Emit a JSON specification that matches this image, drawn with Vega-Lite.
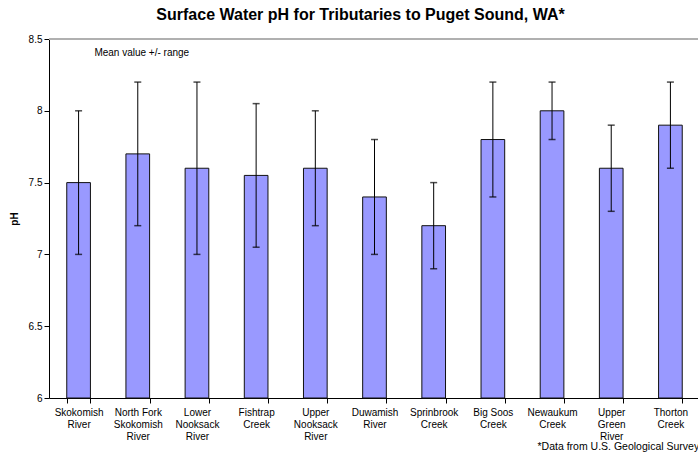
{
  "$schema": "https://vega.github.io/schema/vega-lite/v6.json",
  "autosize": {"type": "none"},
  "width": 651,
  "height": 359,
  "padding": {"left": 49, "top": 39, "right": 0, "bottom": 55},
  "background": "white",
  "config": {
    "view": {"stroke": null},
    "font": "Liberation Sans",
    "axis": {"labelFont": "Liberation Sans", "titleFont": "Liberation Sans", "labelColor": "#000", "titleColor": "#000", "domainColor": "#000", "tickColor": "#000"}
  },
  "title": {"text": "Surface Water pH for Tributaries to Puget Sound, WA*", "fontSize": 16, "fontWeight": "bold", "font": "Liberation Sans", "color": "#000", "anchor": "middle", "offset": 11, "dx": -14},
  "data": {"values": [
    {"site": "Skokomish|River", "mean": 7.5, "low": 7.0, "high": 8.0},
    {"site": "North Fork|Skokomish|River", "mean": 7.7, "low": 7.2, "high": 8.2},
    {"site": "Lower|Nooksack|River", "mean": 7.6, "low": 7.0, "high": 8.2},
    {"site": "Fishtrap|Creek", "mean": 7.55, "low": 7.05, "high": 8.05},
    {"site": "Upper|Nooksack|River", "mean": 7.6, "low": 7.2, "high": 8.0},
    {"site": "Duwamish|River", "mean": 7.4, "low": 7.0, "high": 7.8},
    {"site": "Sprinbrook|Creek", "mean": 7.2, "low": 6.9, "high": 7.5},
    {"site": "Big Soos|Creek", "mean": 7.8, "low": 7.4, "high": 8.2},
    {"site": "Newaukum|Creek", "mean": 8.0, "low": 7.8, "high": 8.2},
    {"site": "Upper|Green|River", "mean": 7.6, "low": 7.3, "high": 7.9},
    {"site": "Thorton|Creek", "mean": 7.9, "low": 7.6, "high": 8.2}
  ]},
  "encoding": {
    "x": {"field": "site", "type": "nominal", "sort": null,
      "scale": {"paddingInner": 0.6, "paddingOuter": 0.3},
      "axis": {"title": "*Data from U.S. Geological Survey", "titleFontSize": 10.5, "titleFontWeight": "normal", "titleAlign": "left", "titleAnchor": null, "titleX": 488, "titleY": 43, "labelAngle": 0, "labelFontSize": 10, "labelLineHeight": 12, "labelExpr": "datum.value ? split(datum.value, '|') : ''", "labelPadding": 4, "tickSize": 5, "tickBand": "extent", "domainWidth": 1}
    }
  },
  "layer": [
    {
      "mark": {"type": "rule", "color": "#b0b0b0", "strokeWidth": 1.5},
      "encoding": {"y": {"datum": 8.5, "type": "quantitative"}, "x": null}
    },
    {
      "mark": {"type": "bar", "fill": "#9999ff", "stroke": "#111", "strokeWidth": 1},
      "encoding": {
        "y": {"field": "mean", "type": "quantitative", "scale": {"domain": [6, 8.5], "nice": false, "zero": false},
          "axis": {"title": "pH", "titleFontSize": 10, "titleFontWeight": "bold", "titlePadding": 9, "values": [6, 6.5, 7, 7.5, 8, 8.5], "format": ".1~f", "labelFontSize": 10, "tickSize": 5, "grid": false, "domainWidth": 1}},
        "y2": {"datum": 6}
      }
    },
    {
      "mark": {"type": "rule", "color": "#000", "strokeWidth": 1},
      "encoding": {"y": {"field": "low", "type": "quantitative"}, "y2": {"field": "high"}}
    },
    {
      "mark": {"type": "tick", "color": "#000", "thickness": 1.5, "size": 7, "orient": "horizontal"},
      "encoding": {"y": {"field": "low", "type": "quantitative"}}
    },
    {
      "mark": {"type": "tick", "color": "#000", "thickness": 1.5, "size": 7, "orient": "horizontal"},
      "encoding": {"y": {"field": "high", "type": "quantitative"}}
    },
    {
      "data": {"values": [{"label": "Mean value +/- range"}]},
      "mark": {"type": "text", "fontSize": 10, "color": "#000", "align": "center", "dx": 4},
      "encoding": {"x": {"datum": "North Fork|Skokomish|River"}, "y": {"datum": 8.4}, "text": {"field": "label"}}
    }
  ]
}
